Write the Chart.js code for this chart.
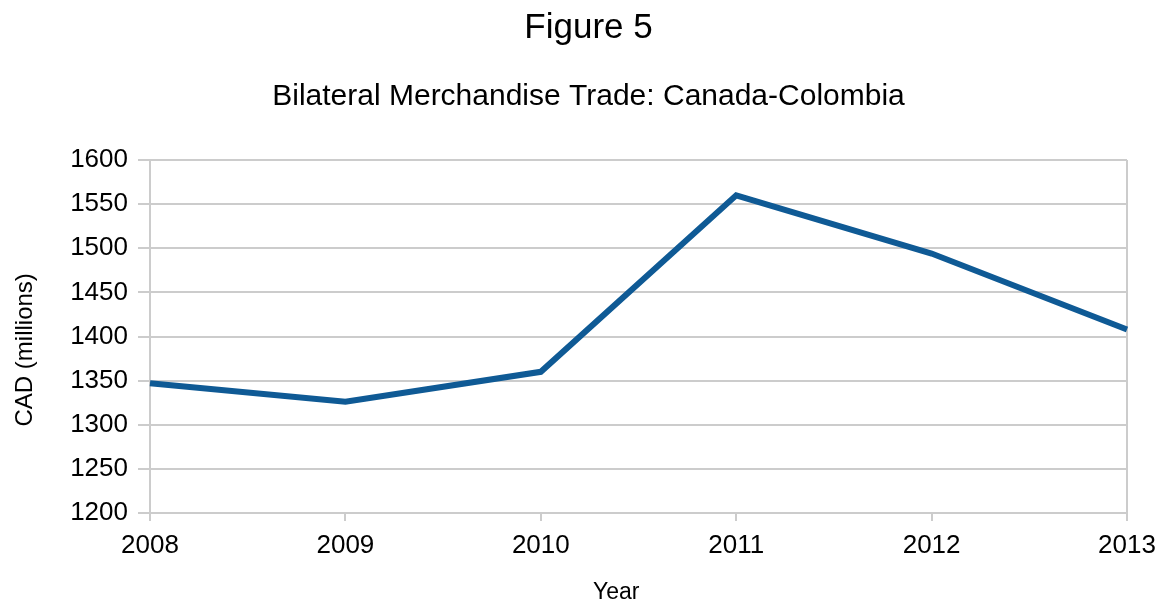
<!DOCTYPE html>
<html>
<head>
<meta charset="utf-8">
<title>Figure 5</title>
<script src="https://cdn.jsdelivr.net/npm/chart.js@4.4.1/dist/chart.umd.min.js"></script>
<style>
    html, body { margin: 0; padding: 0; background: #ffffff; }
    .chart-box { width: 1167px; height: 606px; }
</style>
</head>
<body>
<div class="chart-box"><canvas id="tradeChart" width="1167" height="606"></canvas></div>
<script>
// Canada-Colombia merchandise trade, CAD millions
const years = ['2008', '2009', '2010', '2011', '2012', '2013'];
const tradeValues = [1347, 1326, 1360, 1560, 1494, 1408];
const yTicks = [1200, 1250, 1300, 1350, 1400, 1450, 1500, 1550, 1600];

const gridGray = '#cccccc';
const lineBlue = '#0f5a95';
const fontFamily = '"Liberation Sans", Arial, Helvetica, sans-serif';

const ctx = document.getElementById('tradeChart').getContext('2d');
new Chart(ctx, {
    type: 'line',
    data: {
        labels: years,
        datasets: [{
            label: 'Bilateral Merchandise Trade',
            data: tradeValues,
            borderColor: lineBlue,
            borderWidth: 6,
            pointRadius: 0,
            tension: 0,
            fill: false
        }]
    },
    options: {
        responsive: false,
        animation: false,
        layout: { padding: { top: 0, right: 40, bottom: 0, left: 50 } },
        plugins: {
            legend: { display: false },
            tooltip: { enabled: false },
            title: {
                display: true,
                text: 'Figure 5',
                color: '#000000',
                font: { family: fontFamily, size: 35, weight: 'normal' },
                padding: { top: 7, bottom: 14 }
            },
            subtitle: {
                display: true,
                text: 'Bilateral Merchandise Trade: Canada-Colombia',
                color: '#000000',
                font: { family: fontFamily, size: 30, weight: 'normal' },
                padding: { top: 16, bottom: 45 }
            }
        },
        scales: {
            x: {
                offset: false,
                afterFit: (scale) => { scale.height = 93; },
                grid: {
                    drawOnChartArea: true,
                    // only the right-hand frame line is drawn inside the plot
                    color: (c) => (c.index === years.length - 1 ? gridGray : 'rgba(0,0,0,0)'),
                    tickColor: gridGray,
                    tickLength: 8,
                    lineWidth: 2
                },
                border: { display: false },
                ticks: {
                    color: '#000000',
                    padding: 9,
                    maxRotation: 0,
                    font: { family: fontFamily, size: 26 }
                },
                title: {
                    display: true,
                    text: 'Year       ',
                    color: '#000000',
                    font: { family: fontFamily, size: 23 },
                    padding: { top: 0, bottom: 0 }
                }
            },
            y: {
                min: 1200,
                max: 1600,
                afterFit: (scale) => { scale.width = 100; },
                afterBuildTicks: (scale) => {
                    scale.ticks = yTicks.map(v => ({ value: v }));
                },
                grid: {
                    color: gridGray,
                    lineWidth: 2,
                    tickLength: 12
                },
                border: { display: true, color: gridGray, width: 2 },
                ticks: {
                    color: '#000000',
                    padding: 10,
                    font: { family: fontFamily, size: 26 },
                    callback: (v) => String(v)
                },
                title: {
                    display: true,
                    text: 'CAD (millions)    ',
                    color: '#000000',
                    font: { family: fontFamily, size: 24 },
                    padding: { top: -39, bottom: 0 }
                }
            }
        }
    }
});
</script>
</body>
</html>
